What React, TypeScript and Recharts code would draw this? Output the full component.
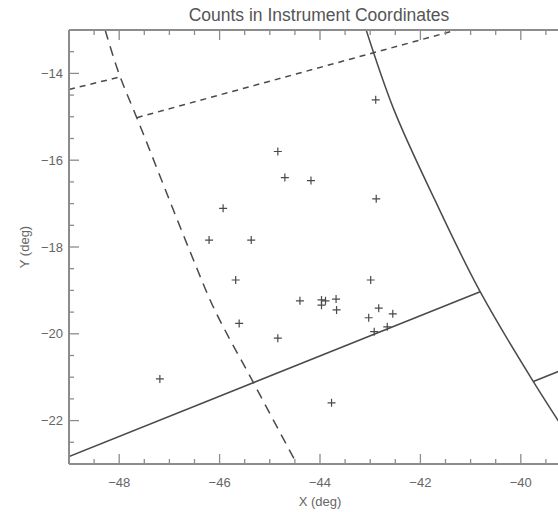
import { ComposedChart, Line, Scatter, XAxis, YAxis } from 'recharts'

// ticks every 0.5 deg, labels on the even ones
const xTicks = [-48.5, -48, -47.5, -47, -46.5, -46, -45.5, -45, -44.5, -44, -43.5, -43, -42.5, -42, -41.5, -41, -40.5, -40, -39.5]
const yTicks = [-22.5, -22, -21.5, -21, -20.5, -20, -19.5, -19, -18.5, -18, -17.5, -17, -16.5, -16, -15.5, -15, -14.5, -14, -13.5]

// event positions (deg)
const countsX = [-42.89, -44.84, -44.7, -44.18, -42.88, -45.93, -46.21, -45.37, -42.99, -45.68, -44.4, -43.97, -43.89, -43.68, -43.97, -43.67, -42.83, -43.03, -42.55, -45.61, -44.84, -42.92, -42.66, -43.77, -47.19]
const countsY = [-14.61, -15.8, -16.4, -16.47, -16.89, -17.11, -17.84, -17.84, -18.76, -18.76, -19.24, -19.22, -19.24, -19.2, -19.34, -19.45, -19.41, -19.63, -19.54, -19.76, -20.1, -19.95, -19.84, -21.59, -21.04]

// outlines
const fovEdgeX = [-48.28, -47.98, -47.65, -46.52, -46.19, -45.31, -44.46]
const fovEdgeY = [-13.0, -14.08, -15.02, -18.3, -19.22, -21.16, -23.0]
const stepLeftX = [-49, -47.98]
const stepLeftY = [-14.37, -14.08]
const stepTopX = [-47.65, -41.28]
const stepTopY = [-15.02, -13.0]
const arcX = [-43.08, -42.54, -41.71, -40.81, -39.75, -39.0]
const arcY = [-13.0, -14.8, -16.92, -19.03, -21.1, -22.46]
const baseX = [-49, -40.81]
const baseY = [-22.83, -19.03]
const cornerX = [-39.75, -39.0]
const cornerY = [-21.1, -20.75]

const pts = (xs: number[], ys: number[]) => xs.map((x, i) => ({ x, y: ys[i] }))

const AXIS = '#8c8c8c'
const INK = '#4a4a4a'
const TEXT = '#666'
const FONT = '"Liberation Sans", Arial, sans-serif'

const fmt = (v: number) => String(v).replace('-', '\u2212')
const isMajor = (v: number) => v % 2 === 0

function BottomTick({ x, y, payload }: any) {
  const v = payload.value
  return (
    <g>
      <line x1={x} y1={y} x2={x} y2={y - (isMajor(v) ? 10 : 5)} stroke={AXIS} strokeWidth={1.3} />
      {isMajor(v) && (
        <text x={x} y={y + 23} textAnchor="middle" fontSize={13} fill={TEXT} fontFamily={FONT}>
          {fmt(v)}
        </text>
      )}
    </g>
  )
}

function TopTick({ x, y, payload }: any) {
  const v = payload.value
  return <line x1={x} y1={y} x2={x} y2={y + (isMajor(v) ? 10 : 5)} stroke={AXIS} strokeWidth={1.3} />
}

function LeftTick({ x, y, payload }: any) {
  const v = payload.value
  return (
    <g>
      <line x1={x} y1={y} x2={x + (isMajor(v) ? 10 : 5)} y2={y} stroke={AXIS} strokeWidth={1.3} />
      {isMajor(v) && (
        <text x={x - 6} y={y + 4.5} textAnchor="end" fontSize={13} fill={TEXT} fontFamily={FONT}>
          {fmt(v)}
        </text>
      )}
    </g>
  )
}

function Plus({ cx, cy }: any) {
  return <path d={`M${cx - 4},${cy}H${cx + 4}M${cx},${cy - 4}V${cy + 4}`} stroke={INK} strokeWidth={1.2} fill="none" />
}

export default function App() {
  const outline = (key: string, xs: number[], ys: number[], dash?: string, curved = false) => (
    <Line
      key={key}
      data={pts(xs, ys)}
      dataKey="y"
      type={curved ? 'monotoneY' : 'linear'}
      stroke={INK}
      strokeWidth={1.5}
      strokeDasharray={dash}
      dot={false}
      activeDot={false}
      legendType="none"
      isAnimationActive={false}
    />
  )

  return (
    <div style={{ position: 'absolute', left: 0, top: 0, width: 558, height: 512, overflow: 'hidden', background: '#fff' }}>
      <div style={{ position: 'absolute', left: 0, top: 5, width: 638, textAlign: 'center', fontFamily: FONT, fontSize: 17.5, color: '#555' }}>
        Counts in Instrument Coordinates
      </div>
      <div style={{ position: 'absolute', left: 0, top: 494, width: 640, textAlign: 'center', fontFamily: FONT, fontSize: 13, color: TEXT }}>
        X (deg)
      </div>
      <div
        style={{
          position: 'absolute',
          left: 24,
          top: 247,
          transform: 'translate(-50%, -50%) rotate(-90deg)',
          fontFamily: FONT,
          fontSize: 13,
          color: TEXT,
          whiteSpace: 'nowrap',
        }}
      >
        Y (deg)
      </div>
      <ComposedChart width={600} height={512} margin={{ top: 29, right: 29, bottom: 18, left: 19 }} style={{ position: 'absolute', left: 0, top: 0 }}>
        <XAxis
          type="number"
          dataKey="x"
          domain={[-49, -39]}
          ticks={xTicks}
          interval={0}
          height={30}
          tickSize={0}
          tickMargin={0}
          tickLine={false}
          tick={<BottomTick />}
          axisLine={{ stroke: AXIS, strokeWidth: 2 }}
          allowDataOverflow
        />
        <XAxis
          xAxisId="top"
          orientation="top"
          type="number"
          dataKey="x"
          domain={[-49, -39]}
          ticks={xTicks}
          interval={0}
          height={1}
          tickSize={0}
          tickMargin={0}
          tickLine={false}
          tick={<TopTick />}
          axisLine={{ stroke: AXIS, strokeWidth: 2 }}
          allowDataOverflow
        />
        <YAxis
          type="number"
          dataKey="y"
          domain={[-23, -13]}
          ticks={yTicks}
          interval={0}
          width={50}
          tickSize={0}
          tickMargin={0}
          tickLine={false}
          tick={<LeftTick />}
          axisLine={{ stroke: AXIS, strokeWidth: 2 }}
          allowDataOverflow
        />
        {outline('fov', fovEdgeX, fovEdgeY, '10 7', true)}
        {outline('stepL', stepLeftX, stepLeftY, '6 5')}
        {outline('stepT', stepTopX, stepTopY, '6 5')}
        {outline('arc', arcX, arcY, undefined, true)}
        {outline('base', baseX, baseY)}
        {outline('corner', cornerX, cornerY)}
        <Scatter data={pts(countsX, countsY)} dataKey="y" shape={<Plus />} legendType="none" isAnimationActive={false} />
      </ComposedChart>
    </div>
  )
}
